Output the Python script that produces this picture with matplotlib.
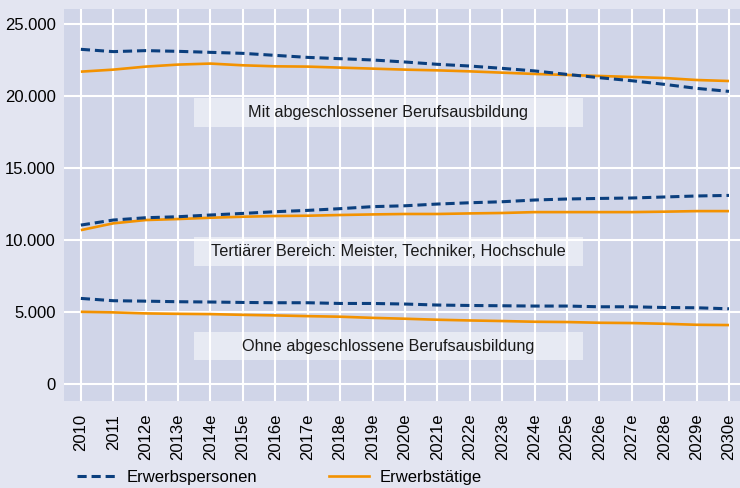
import matplotlib
matplotlib.use("Agg")
import matplotlib.pyplot as plt
from matplotlib.patches import Rectangle

# years on the x axis (e = estimate)
years = ["2010", "2011", "2012e", "2013e", "2014e", "2015e", "2016e", "2017e",
         "2018e", "2019e", "2020e", "2021e", "2022e", "2023e", "2024e", "2025e",
         "2026e", "2027e", "2028e", "2029e", "2030e"]

# Mit abgeschlossener Berufsausbildung
mit_personen = [23240, 23080, 23150, 23100, 23030, 22960, 22820, 22680, 22590, 22500, 22360,
                22200, 22080, 21920, 21740, 21500, 21270, 21060, 20810, 20530, 20320]
mit_taetige = [21690, 21830, 22040, 22180, 22250, 22130, 22060, 22040, 21970, 21900, 21830,
               21780, 21710, 21620, 21530, 21460, 21390, 21320, 21250, 21110, 21040]

# Tertiaerer Bereich
tert_personen = [11040, 11390, 11550, 11620, 11740, 11850, 11970, 12060, 12180, 12320, 12380,
                 12500, 12590, 12660, 12780, 12850, 12890, 12920, 12990, 13060, 13100]
tert_taetige = [10690, 11160, 11390, 11460, 11550, 11620, 11670, 11690, 11740, 11780, 11810,
                11810, 11850, 11880, 11940, 11940, 11940, 11940, 11970, 12010, 12010]

# Ohne abgeschlossene Berufsausbildung
ohne_personen = [5950, 5790, 5760, 5720, 5700, 5670, 5650, 5650, 5600, 5600, 5560,
                 5490, 5460, 5440, 5420, 5420, 5370, 5370, 5320, 5300, 5230]
ohne_taetige = [5020, 4980, 4910, 4880, 4860, 4810, 4770, 4720, 4680, 4600, 4540,
                4470, 4420, 4380, 4330, 4310, 4260, 4240, 4190, 4120, 4100]

group_labels = ["Mit abgeschlossener Berufsausbildung",
                "Tertiärer Bereich: Meister, Techniker, Hochschule",
                "Ohne abgeschlossene Berufsausbildung"]
yticks = [0, 5000, 10000, 15000, 20000, 25000]
ytick_labels = ["0", "5.000", "10.000", "15.000", "20.000", "25.000"]

navy = "#0b3f7e"
orange = "#f39200"
fig_bg = "#e3e5f1"
ax_bg = "#d0d5e8"

plt.rcParams['font.family'] = ['Liberation Sans', 'DejaVu Sans']

fig = plt.figure(figsize=(7.4, 4.88), dpi=100, facecolor=fig_bg)
ax = fig.add_axes([0.0865, 0.178, 0.9135, 0.8036], facecolor=ax_bg)

x = list(range(len(years)))
dash = (3.0, 1.6)
for pers, taet in [(mit_personen, mit_taetige), (tert_personen, tert_taetige),
                   (ohne_personen, ohne_taetige)]:
    ax.plot(x, taet, color=orange, lw=1.9, solid_capstyle='butt', zorder=3)
    ax.plot(x, pers, color=navy, lw=2.2, linestyle=(0, dash), zorder=4)

# label boxes (semi transparent, centred over the chart)
box_y = [(17850, 19860), (8200, 10210), (1670, 3610)]
for (y0, y1), lab in zip(box_y, group_labels):
    ax.add_patch(Rectangle((3.49, y0), 12.0, y1 - y0, facecolor="white",
                           alpha=0.5, edgecolor="none", zorder=2.5))
    ax.text(9.49, (y0 + y1) / 2, lab, ha="center", va="center",
            fontsize=11.7, color="#1a1a1a", zorder=5)

ax.set_xlim(-0.52, 20.34)
ax.set_ylim(-1180, 26040)
ax.set_xticks(x)
ax.set_xticklabels(years, rotation=90, fontsize=12, va="top")
ax.set_yticks(yticks)
ax.set_yticklabels(ytick_labels, fontsize=12)
ax.tick_params(length=0)
ax.tick_params(axis="x", pad=9)
ax.tick_params(axis="y", pad=6)
ax.grid(True, color="white", lw=1.5)
ax.set_axisbelow(True)
for s in ax.spines.values():
    s.set_visible(False)

# legend
h1, = ax.plot([], [], color=navy, lw=2.2, linestyle=(0, dash))
h2, = ax.plot([], [], color=orange, lw=1.9)
fig.legend([h1, h2], ["Erwerbspersonen", "Erwerbstätige"], ncol=2,
           loc="center left", bbox_to_anchor=(0.104, 0.021), frameon=False,
           fontsize=12, handlelength=2.4, handletextpad=0.6,
           columnspacing=4.3, borderpad=0, borderaxespad=0)

fig.savefig("out.png", dpi=100, facecolor=fig_bg)
